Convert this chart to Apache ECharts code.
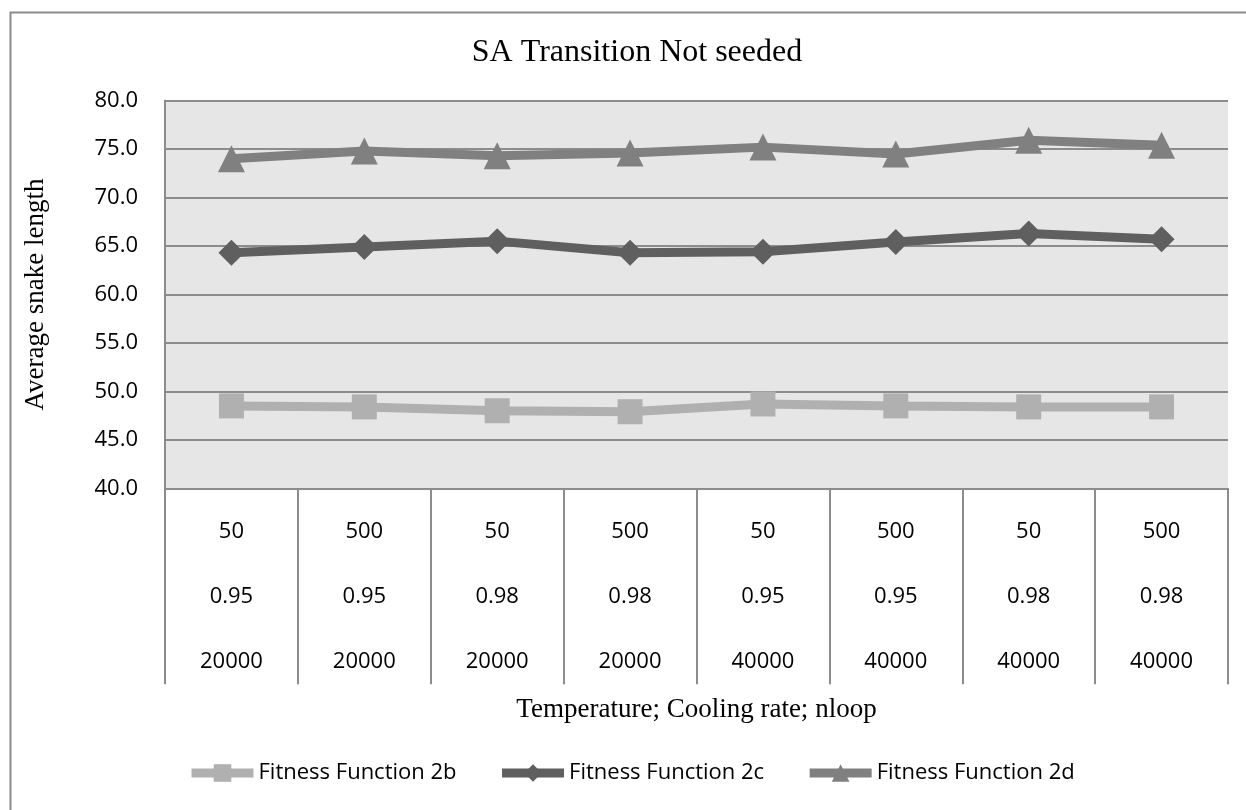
<!DOCTYPE html>
<html>
<head>
<meta charset="utf-8">
<title>SA Transition Not seeded</title>
<script src="https://cdn.jsdelivr.net/npm/echarts@6/dist/echarts.min.js"></script>
<style>
  html, body { margin: 0; padding: 0; background: #fff; }
  #chart { width: 1246px; height: 810px; }
</style>
</head>
<body>
<div id="chart"></div>
<script>
  // x categories: temperature / cooling rate / nloop
  var temperature = ['50', '500', '50', '500', '50', '500', '50', '500'];
  var coolingRate = ['0.95', '0.95', '0.98', '0.98', '0.95', '0.95', '0.98', '0.98'];
  var nloop = ['20000', '20000', '20000', '20000', '40000', '40000', '40000', '40000'];

  // average snake length per fitness function
  var fitness2b = [48.5, 48.4, 48.0, 47.9, 48.7, 48.5, 48.4, 48.4];
  var fitness2c = [64.3, 64.9, 65.5, 64.3, 64.4, 65.4, 66.3, 65.7];
  var fitness2d = [74.0, 74.8, 74.3, 74.6, 75.2, 74.5, 75.9, 75.4];

  var categories = temperature.map(function (t, i) {
    return t + '\n' + coolingRate[i] + '\n' + nloop[i];
  });

  var sansFont = '"Open Sans", "DejaVu Sans", sans-serif';
  var serifFont = '"Liberation Serif", "DejaVu Serif", serif';

  var chart = echarts.init(document.getElementById('chart'));

  function lineSeries(name, data, color, symbol, size) {
    return {
      name: name,
      type: 'line',
      data: data,
      symbol: symbol,
      symbolSize: size,
      z: 3,
      lineStyle: { color: color, width: 9 },
      itemStyle: { color: color },
      emphasis: { disabled: true }
    };
  }

  chart.setOption({
    animation: false,
    backgroundColor: '#ffffff',
    title: {
      text: 'SA Transition Not seeded',
      left: 632,
      textAlign: 'center',
      top: 32,
      textStyle: { fontFamily: serifFont, fontWeight: 'normal', fontSize: 32, color: '#000' }
    },
    graphic: [{
      type: 'rect',
      left: 8,
      top: 10,
      shape: { width: 1300, height: 900 },
      style: { fill: 'none', stroke: '#8c8c8c', lineWidth: 2 },
      silent: true
    }],
    legend: {
      left: 182,
      top: 757,
      itemWidth: 62,
      itemHeight: 22,
      itemGap: 41,
      lineStyle: { width: 9 },
      textStyle: { fontFamily: sansFont, fontSize: 22, color: '#000' },
      data: ['Fitness Function 2b', 'Fitness Function 2c', 'Fitness Function 2d']
    },
    grid: {
      left: 165,
      right: 18,
      top: 100.6,
      bottom: 321.7,
      show: true,
      backgroundColor: '#e6e6e6',
      borderWidth: 0
    },
    xAxis: {
      type: 'category',
      data: categories,
      boundaryGap: true,
      name: 'Temperature; Cooling rate; nloop',
      nameLocation: 'middle',
      nameGap: 208,
      nameTextStyle: { fontFamily: serifFont, fontSize: 27, color: '#000' },
      axisLine: { show: true, lineStyle: { color: '#8c8c8c', width: 2 } },
      axisTick: { show: true, length: 196, lineStyle: { color: '#8c8c8c', width: 2 } },
      axisLabel: {
        margin: 11,
        fontFamily: sansFont,
        fontSize: 22,
        lineHeight: 65,
        color: '#000',
        interval: 0
      }
    },
    yAxis: {
      type: 'value',
      min: 40,
      max: 80,
      interval: 5,
      name: 'Average snake length',
      nameLocation: 'middle',
      nameRotate: 90,
      nameGap: 116,
      nameTextStyle: { fontFamily: serifFont, fontSize: 27, color: '#000' },
      axisLine: { show: true, lineStyle: { color: '#8c8c8c', width: 2 } },
      axisTick: { show: false },
      axisLabel: {
        margin: 27,
        fontFamily: sansFont,
        fontSize: 22,
        color: '#000',
        formatter: function (v) { return v.toFixed(1); }
      },
      splitLine: { show: true, lineStyle: { color: '#8c8c8c', width: 2 } }
    },
    series: [
      lineSeries('Fitness Function 2b', fitness2b, '#b0b0b0', 'rect', 25),
      lineSeries('Fitness Function 2c', fitness2c, '#5f5f5f', 'diamond', 26),
      lineSeries('Fitness Function 2d', fitness2d, '#808080', 'triangle', 27)
    ]
  });

  window.addEventListener('resize', function () { chart.resize(); });
</script>
</body>
</html>
